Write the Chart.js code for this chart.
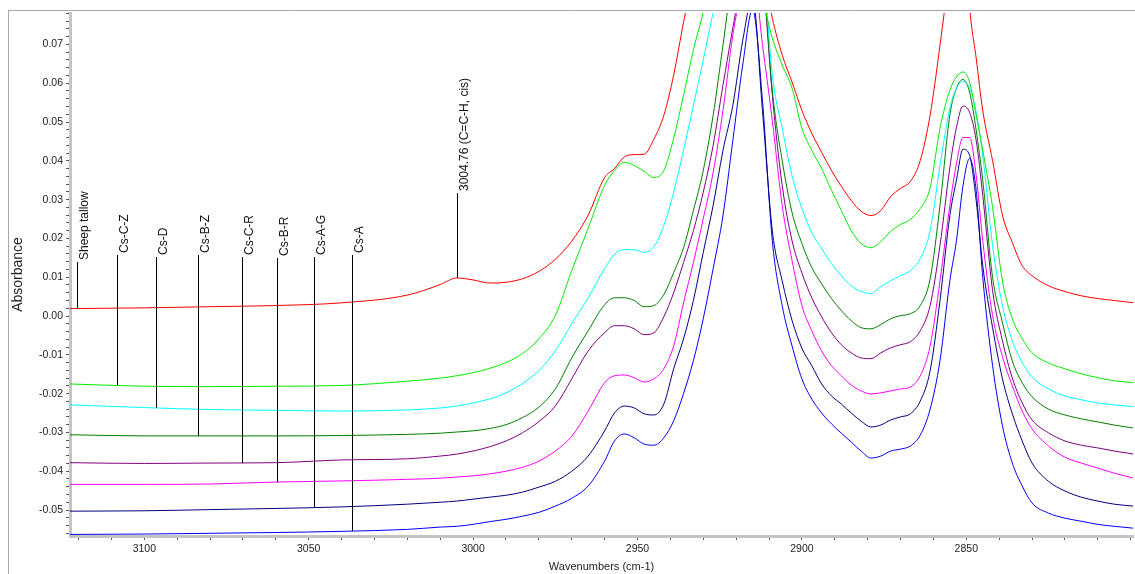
<!DOCTYPE html>
<html>
<head>
<meta charset="utf-8">
<title>FTIR spectra, 3120-2800 cm-1</title>
<script src="https://cdn.jsdelivr.net/npm/chart.js@4.4.1/dist/chart.umd.min.js"></script>
<style>
  html, body { margin: 0; padding: 0; background: #fff; }
  #wrap { width: 1135px; height: 574px; }
</style>
</head>
<body>
<div id="wrap"><canvas id="spectra" width="1135" height="574"></canvas></div>
<script>
// wavenumber grid (cm-1), descending like the plot
const wavenumbers = [3123, 3100, 3080, 3060, 3040, 3020, 3010, 3005, 3000, 2995,
  2990, 2985, 2980, 2975, 2970, 2965, 2960, 2957, 2954, 2951,
  2948, 2945, 2942, 2939, 2936, 2933, 2930, 2927, 2924, 2921,
  2918, 2915, 2912, 2909, 2906, 2903, 2900, 2897, 2894, 2891,
  2888, 2885, 2882, 2879, 2876, 2873, 2870, 2867, 2864, 2861,
  2858, 2855, 2853, 2851, 2849, 2847, 2845, 2842, 2839, 2836,
  2833, 2830, 2825, 2820, 2815, 2810, 2805, 2799];

const sheepTallow = [0.0019, 0.0021, 0.0024, 0.0027, 0.0034, 0.0054, 0.0081, 0.0098, 0.0093, 0.0085,
  0.0087, 0.0096, 0.0115, 0.0146, 0.0193, 0.0260, 0.0357, 0.0380, 0.0410, 0.0416,
  0.0417, 0.0456, 0.0517, 0.0621, 0.0757, 0.088, 0.099, 0.110, 0.118, 0.120,
  0.115, 0.105, 0.090, 0.0768, 0.0673, 0.0603, 0.0530, 0.0471, 0.0422, 0.0375,
  0.0334, 0.0298, 0.0270, 0.0259, 0.0272, 0.0308, 0.0329, 0.0347, 0.0401, 0.0518,
  0.0698, 0.090, 0.105, 0.110, 0.080, 0.0665, 0.0530, 0.0400, 0.0260, 0.0189,
  0.0130, 0.0104, 0.0078, 0.0063, 0.0052, 0.0045, 0.0040, 0.0034];

const csCZ = [-0.0175, -0.0181, -0.0182, -0.0181, -0.0179, -0.0168, -0.0160, -0.0154, -0.0146, -0.0135,
  -0.0120, -0.0097, -0.0059, 0.0001, 0.0117, 0.0226, 0.0337, 0.0375, 0.0396, 0.0388,
  0.0373, 0.0357, 0.0375, 0.0458, 0.0569, 0.0686, 0.0783, 0.090, 0.100, 0.105,
  0.102, 0.095, 0.082, 0.0717, 0.0647, 0.0587, 0.0484, 0.0427, 0.0380, 0.0324,
  0.0272, 0.0220, 0.0187, 0.0176, 0.0192, 0.0218, 0.0236, 0.0249, 0.0277, 0.0331,
  0.0484, 0.0582, 0.0616, 0.0629, 0.0603, 0.0517, 0.0427, 0.0280, 0.0090, -0.0007,
  -0.0058, -0.0095, -0.0121, -0.0136, -0.0149, -0.0159, -0.0167, -0.0172];

const csD = [-0.0229, -0.0236, -0.0241, -0.0243, -0.0245, -0.0242, -0.0237, -0.0232, -0.0224, -0.0214,
  -0.0198, -0.0174, -0.0141, -0.0090, -0.0020, 0.0047, 0.0122, 0.0159, 0.0171, 0.0171,
  0.0164, 0.0179, 0.0233, 0.0319, 0.0427, 0.0543, 0.0660, 0.0783, 0.090, 0.100,
  0.103, 0.100, 0.092, 0.0621, 0.0484, 0.0362, 0.0277, 0.0215, 0.0174, 0.0135,
  0.0104, 0.0078, 0.0063, 0.0058, 0.0076, 0.0091, 0.0104, 0.0117, 0.0148, 0.0220,
  0.0388, 0.0536, 0.0587, 0.0605, 0.0587, 0.0525, 0.0414, 0.0181, 0.0027, -0.0064,
  -0.0120, -0.0157, -0.0188, -0.0206, -0.0216, -0.0224, -0.0229, -0.0234];

const csBZ = [-0.0306, -0.0309, -0.0309, -0.0309, -0.0308, -0.0305, -0.0302, -0.0299, -0.0296, -0.0290,
  -0.0280, -0.0262, -0.0235, -0.0188, -0.0108, -0.0038, 0.0029, 0.0047, 0.0047, 0.0040,
  0.0024, 0.0027, 0.0055, 0.0112, 0.0176, 0.0272, 0.0375, 0.0517, 0.0698, 0.088,
  0.095, 0.097, 0.090, 0.0582, 0.0401, 0.0267, 0.0187, 0.0125, 0.0083, 0.0045,
  0.0014, -0.0012, -0.0030, -0.0033, -0.0022, -0.0007, 0.0001, 0.0006, 0.0027, 0.0096,
  0.0285, 0.0518, 0.0587, 0.0610, 0.0577, 0.0479, 0.0350, 0.0099, -0.0017, -0.0116,
  -0.0172, -0.0208, -0.0240, -0.0255, -0.0265, -0.0273, -0.0281, -0.0289];

const csCR = [-0.0378, -0.0380, -0.0379, -0.0378, -0.0371, -0.0368, -0.0361, -0.0356, -0.0348, -0.0337,
  -0.0322, -0.0301, -0.0272, -0.0232, -0.0162, -0.0090, -0.0043, -0.0025, -0.0025, -0.0033,
  -0.0048, -0.0043, -0.0002, 0.0060, 0.0138, 0.0220, 0.0319, 0.0440, 0.0595, 0.0743,
  0.088, 0.095, 0.088, 0.0569, 0.0337, 0.0194, 0.0111, 0.0047, -0.0002, -0.0043,
  -0.0074, -0.0095, -0.0108, -0.0110, -0.0095, -0.0082, -0.0074, -0.0066, -0.0038, 0.0027,
  0.0182, 0.0383, 0.0486, 0.0541, 0.0525, 0.0453, 0.0311, 0.0065, -0.0064, -0.0160,
  -0.0224, -0.0268, -0.0301, -0.0322, -0.0333, -0.0340, -0.0348, -0.0356];

const csBR = [-0.0434, -0.0434, -0.0433, -0.0428, -0.0425, -0.0421, -0.0418, -0.0415, -0.0412, -0.0407,
  -0.0400, -0.0390, -0.0374, -0.0348, -0.0310, -0.0245, -0.0172, -0.0154, -0.0152, -0.0159,
  -0.0170, -0.0162, -0.0136, -0.0077, 0.0034, 0.0138, 0.0251, 0.0370, 0.0530, 0.0724,
  0.085, 0.090, 0.070, 0.0504, 0.0285, 0.0143, 0.0027, -0.0038, -0.0090, -0.0128,
  -0.0154, -0.0178, -0.0193, -0.0201, -0.0198, -0.0193, -0.0188, -0.0183, -0.0154, -0.0077,
  0.0091, 0.0285, 0.0393, 0.0460, 0.0460, 0.0362, 0.0194, 0.0001, -0.0105, -0.0180,
  -0.0245, -0.0291, -0.0335, -0.0364, -0.0379, -0.0392, -0.0405, -0.0418];

const csAG = [-0.0503, -0.0502, -0.0499, -0.0496, -0.0492, -0.0485, -0.0480, -0.0477, -0.0472, -0.0467,
  -0.0462, -0.0454, -0.0441, -0.0426, -0.0400, -0.0361, -0.0296, -0.0250, -0.0232, -0.0237,
  -0.0252, -0.0255, -0.0227, -0.0136, -0.0059, 0.0040, 0.0164, 0.0285, 0.0427, 0.0543,
  0.0710, 0.082, 0.0530, 0.0220, 0.0091, -0.0011, -0.0083, -0.0128, -0.0175, -0.0206,
  -0.0227, -0.0250, -0.0271, -0.0286, -0.0281, -0.0268, -0.0260, -0.0252, -0.0219, -0.0141,
  0.0040, 0.0259, 0.0350, 0.0430, 0.0414, 0.0298, 0.0130, -0.0030, -0.0162, -0.0252,
  -0.0322, -0.0379, -0.0426, -0.0451, -0.0467, -0.0477, -0.0485, -0.0490];

const csA = [-0.0563, -0.0562, -0.0560, -0.0558, -0.0555, -0.0550, -0.0544, -0.0542, -0.0537, -0.0530,
  -0.0524, -0.0516, -0.0506, -0.0490, -0.0470, -0.0438, -0.0374, -0.0322, -0.0304, -0.0314,
  -0.0330, -0.0333, -0.0314, -0.0270, -0.0200, -0.0115, -0.0007, 0.0122, 0.0259, 0.0453,
  0.0647, 0.0790, 0.0556, 0.0194, 0.0027, -0.0077, -0.0162, -0.0214, -0.0250, -0.0278,
  -0.0302, -0.0325, -0.0348, -0.0366, -0.0361, -0.0348, -0.0343, -0.0335, -0.0307, -0.0240,
  -0.0115, 0.0091, 0.0194, 0.0336, 0.0406, 0.0324, 0.0100, -0.0128, -0.0283, -0.0379,
  -0.0438, -0.0482, -0.0508, -0.0521, -0.0529, -0.0537, -0.0542, -0.0547];

const seriesNames = ['Sheep tallow', 'Cs-C-Z', 'Cs-D', 'Cs-B-Z', 'Cs-C-R', 'Cs-B-R', 'Cs-A-G', 'Cs-A'];
const seriesValues = [sheepTallow, csCZ, csD, csBZ, csCR, csBR, csAG, csA];
const seriesColors = ['#ff0000', '#00ee00', '#00ffff', '#008000', '#800080', '#ff00ff', '#000080', '#0000ff'];

// where each sample name is pinned (wavenumber) and how high its leader line starts
const labelWavenumbers = [3120.6, 3108.4, 3096.5, 3083.8, 3070.4, 3059.6, 3048.4, 3036.8];
const labelTops = [0.0139, 0.0156, 0.0151, 0.0156, 0.0151, 0.0149, 0.0151, 0.0158];

const peakText = '3004.76 (C=C-H, cis)';
const peakWavenumber = 3004.76;
const peakTop = 0.0316;

// labelled ticks; minor ticks every 10 cm-1 and every 0.002
const xTickLabels = [3100, 3050, 3000, 2950, 2900, 2850];
const yTickLabels = [0.07, 0.06, 0.05, 0.04, 0.03, 0.02, 0.01, 0.00, -0.01, -0.02, -0.03, -0.04, -0.05];
const xMinorStep = 10;
const yMinorStep = 0.002;

const FONT = "'Liberation Sans', Arial, sans-serif";

function valueAt(values, wn) {
    for (let i = 0; i < wavenumbers.length - 1; i++) {
        const a = wavenumbers[i], b = wavenumbers[i + 1];
        if (wn <= a && wn >= b) {
            const t = (a - wn) / (a - b);
            return values[i] + t * (values[i + 1] - values[i]);
        }
    }
    return values[values.length - 1];
}

function minorTicks(scale, step) {
    const ticks = [];
    const first = Math.ceil(scale.min / step - 1e-9);
    const last = Math.floor(scale.max / step + 1e-9);
    for (let k = first; k <= last; k++) {
        ticks.push({ value: Math.round(k * step * 1e6) / 1e6 });
    }
    scale.ticks = ticks;
}

const framePlugin = {
    id: 'frame',
    beforeDraw(chart) {
        const ctx = chart.ctx;
        ctx.save();
        ctx.fillStyle = '#fff';
        ctx.fillRect(0, 0, chart.width, chart.height);
        ctx.strokeStyle = '#a8a8a8';
        ctx.lineWidth = 1;
        ctx.beginPath();
        ctx.moveTo(8.5, chart.height);
        ctx.lineTo(8.5, 10.5);
        ctx.lineTo(chart.width, 10.5);
        ctx.stroke();
        ctx.restore();
    }
};

const peakLabels = {
    id: 'peakLabels',
    afterDatasetsDraw(chart) {
        const { ctx, scales: { x, y } } = chart;
        ctx.save();
        ctx.strokeStyle = '#000';
        ctx.fillStyle = '#111';
        ctx.lineWidth = 1;
        ctx.font = '12px ' + FONT;
        ctx.textBaseline = 'top';

        function tag(text, wn, top, bottom) {
            const px = Math.round(x.getPixelForValue(wn)) + 0.5;
            const y0 = Math.round(y.getPixelForValue(top));
            const y1 = Math.round(y.getPixelForValue(bottom));
            ctx.beginPath();
            ctx.moveTo(px, y0);
            ctx.lineTo(px, y1);
            ctx.stroke();
            ctx.save();
            ctx.translate(px, y0);
            ctx.rotate(-Math.PI / 2);
            ctx.fillText(text, 2, 1);
            ctx.restore();
        }

        seriesNames.forEach((name, i) => {
            tag(name, labelWavenumbers[i], labelTops[i], valueAt(seriesValues[i], labelWavenumbers[i]));
        });
        tag(peakText, peakWavenumber, peakTop, valueAt(sheepTallow, peakWavenumber));
        ctx.restore();
    }
};

const datasets = seriesNames.map((name, i) => ({
    label: name,
    data: wavenumbers.map((wn, j) => ({ x: wn, y: seriesValues[i][j] })),
    borderColor: seriesColors[i],
    borderWidth: 1,
    pointRadius: 0,
    fill: false,
    cubicInterpolationMode: 'monotone'
}));

new Chart(document.getElementById('spectra'), {
    type: 'line',
    data: { datasets },
    options: {
        responsive: false,
        animation: false,
        devicePixelRatio: 1,
        layout: { padding: { top: 13, right: 2, left: 0, bottom: 0 } },
        plugins: {
            legend: { display: false },
            tooltip: { enabled: false }
        },
        scales: {
            x: {
                type: 'linear',
                reverse: true,
                min: 2799.3,
                max: 3122.6,
                bounds: 'data',
                afterBuildTicks: (scale) => minorTicks(scale, xMinorStep),
                afterFit: (scale) => { scale.height = 38; },
                border: { color: '#c4c4c4', width: 3 },
                grid: { drawOnChartArea: false, tickLength: 4, color: '#555' },
                ticks: {
                    autoSkip: false,
                    maxRotation: 0,
                    padding: 3,
                    color: '#222',
                    font: { family: FONT, size: 10.5 },
                    callback: (v) => (xTickLabels.includes(Math.round(v)) ? String(Math.round(v)) : '')
                },
                title: {
                    display: true,
                    text: 'Wavenumbers (cm-1)',
                    color: '#222',
                    padding: { top: 0, bottom: 0 },
                    font: { family: FONT, size: 11 }
                }
            },
            y: {
                type: 'linear',
                min: -0.0567,
                max: 0.0781,
                bounds: 'data',
                afterBuildTicks: (scale) => minorTicks(scale, yMinorStep),
                afterFit: (scale) => { scale.width = 70; },
                border: { color: '#c4c4c4', width: 3 },
                grid: { drawOnChartArea: false, tickLength: 4, color: '#555' },
                ticks: {
                    autoSkip: false,
                    padding: 3,
                    color: '#222',
                    font: { family: FONT, size: 10.5 },
                    callback: (v) => {
                        const hit = yTickLabels.find((t) => Math.abs(t - v) < 1e-6);
                        return hit === undefined ? '' : hit.toFixed(2);
                    }
                },
                title: {
                    display: true,
                    text: 'Absorbance',
                    color: '#222',
                    padding: { top: 10, bottom: 0 },
                    font: { family: FONT, size: 14 }
                }
            }
        }
    },
    plugins: [framePlugin, peakLabels]
});
</script>
</body>
</html>
